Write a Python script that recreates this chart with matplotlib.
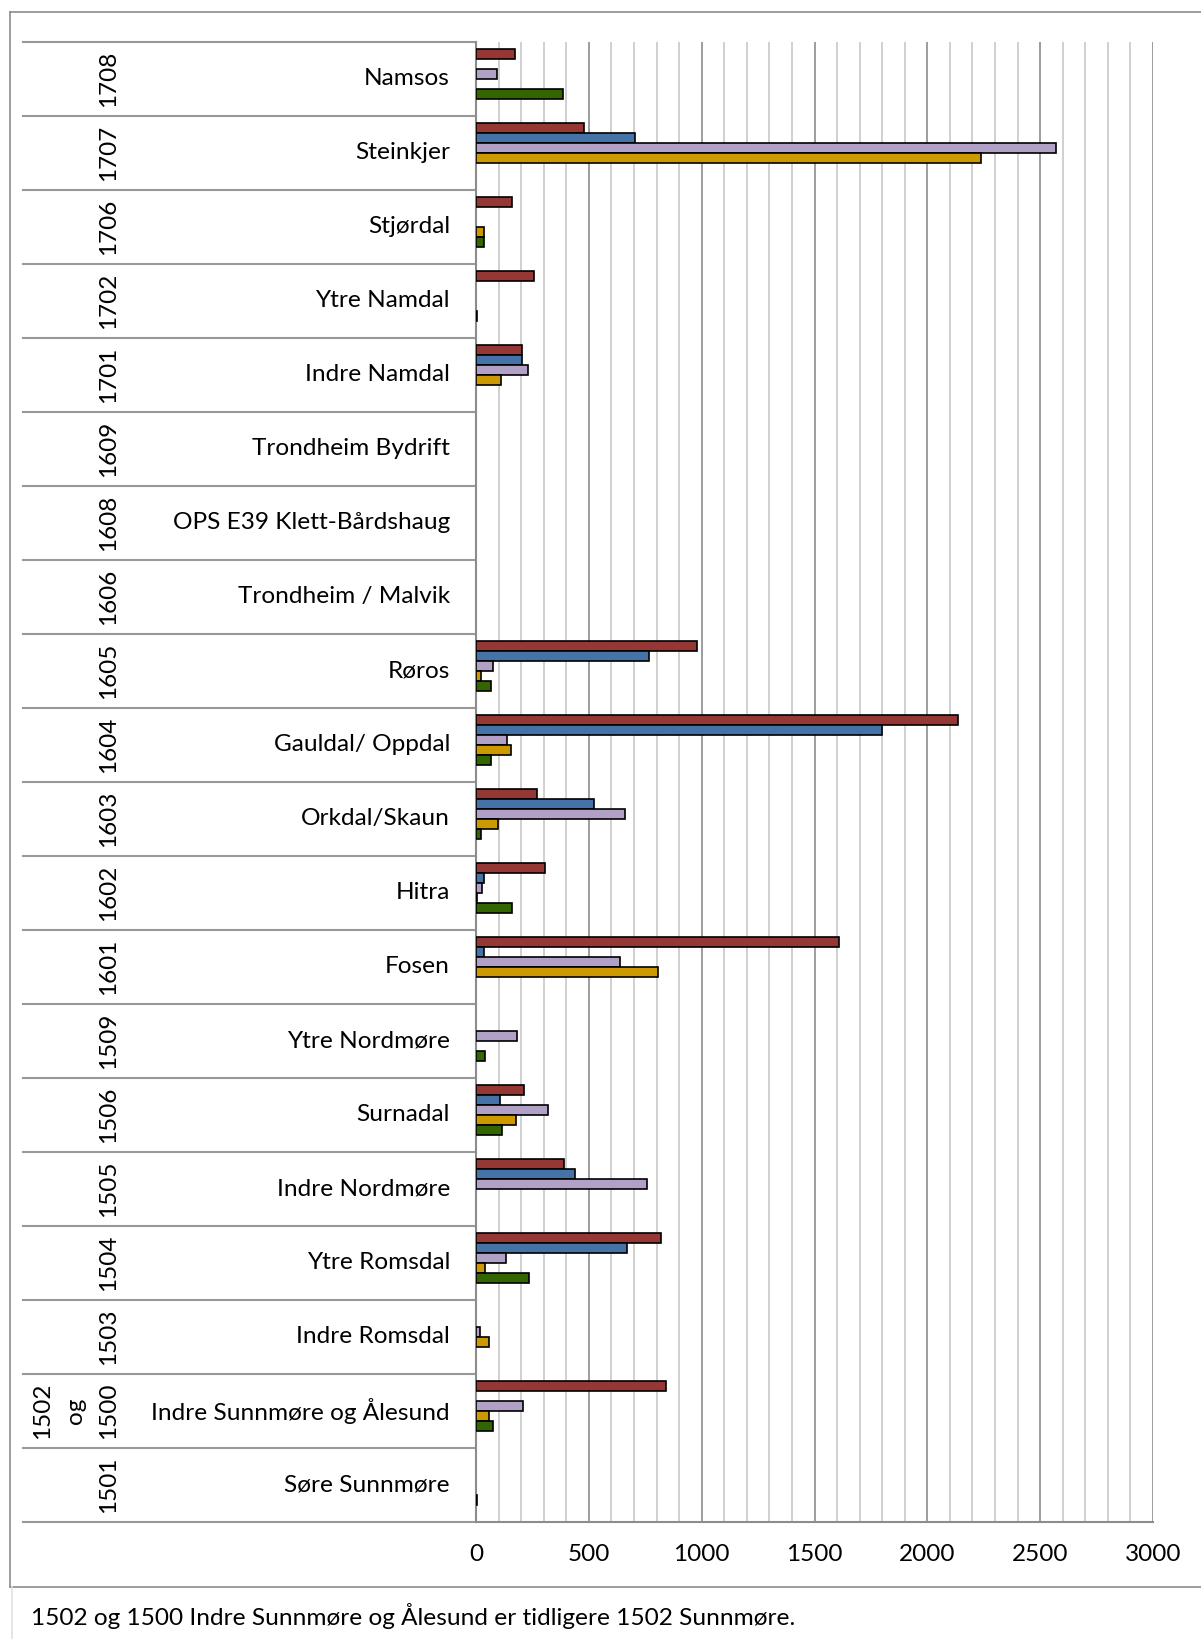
import numpy as np
import matplotlib
matplotlib.use("Agg")
import matplotlib.pyplot as plt
from matplotlib.lines import Line2D
from matplotlib import transforms

# ---------------- data (top to bottom) ----------------
codes = ["1708", "1707", "1706", "1702", "1701", "1609", "1608", "1606", "1605", "1604",
         "1603", "1602", "1601", "1509", "1506", "1505", "1504", "1503", "1502\nog\n1500", "1501"]
names = ["Namsos", "Steinkjer", "Stjørdal", "Ytre Namdal", "Indre Namdal", "Trondheim Bydrift",
         "OPS E39 Klett-Bårdshaug", "Trondheim / Malvik", "Røros", "Gauldal/ Oppdal",
         "Orkdal/Skaun", "Hitra", "Fosen", "Ytre Nordmøre", "Surnadal", "Indre Nordmøre",
         "Ytre Romsdal", "Indre Romsdal", "Indre Sunnmøre og Ålesund", "Søre Sunnmøre"]
nan = np.nan
s_red = [174, 479, 160, 259, 202, nan, nan, nan, 978, 2137, 271, 307, 1608, nan, 212, 390, 820, nan, 842, nan]
s_blue = [nan, 703, nan, nan, 202, nan, nan, nan, 768, 1800, 525, 36, 34, nan, 105, 438, 669, nan, nan, nan]
s_lav = [91, 2572, nan, nan, 230, nan, nan, nan, 77, 137, 661, 28, 640, 182, 319, 756, 133, 18, 208, nan]
s_gold = [nan, 2236, 34, nan, 111, nan, nan, nan, 20, 154, 97, 5, 808, nan, 178, nan, 40, 57, 57, nan]
s_green = [384, nan, 34, 4, nan, nan, nan, nan, 65, 67, 22, 160, nan, 42, 113, nan, 234, nan, 75, 3]
x_ticks = [0, 500, 1000, 1500, 2000, 2500, 3000]
footnote = "1502 og 1500 Indre Sunnmøre og Ålesund er tidligere 1502 Sunnmøre."

series = [s_red, s_blue, s_lav, s_gold, s_green]
colors = ["#953735", "#4572A7", "#B2A1C7", "#CC9900", "#336600"]

# ---------------- figure ----------------
W, H = 1201, 1639
FONT = "Lato"
plt.rcParams["font.family"] = [FONT, "DejaVu Sans"]
fig = plt.figure(figsize=(W / 100, H / 100), dpi=100)
fig.patch.set_facecolor("white")

def fx(px):
    return px / W

def fy(py):
    return 1 - py / H

ax_left, ax_right = 476, 1153
ax_top, ax_bot = 41.7, 1521.7
ax = fig.add_axes([fx(ax_left), fy(ax_bot), (ax_right - ax_left) / W, (ax_bot - ax_top) / H])

n = len(names)
ypos = np.arange(n)
bar_h = 10 / 74.0
for k, (vals, c) in enumerate(zip(series, colors)):
    ax.barh(ypos + (k - 2.5) * bar_h, vals, height=bar_h, color=c,
            edgecolor="black", linewidth=1.2, zorder=3)

ax.set_xlim(0, 3000)
ax.set_ylim(n - 0.5, -0.5)
ax.set_yticks([])
ax.set_xticks(x_ticks)
ax.set_xticklabels([str(t) for t in x_ticks], fontsize=17.5, family=[FONT, "DejaVu Sans"])
ax.tick_params(axis="x", length=0, pad=16, colors="black")
for v in range(100, 3001, 100):
    major = (v % 500 == 0)
    ax.axvline(v, color="#8c8c8c" if major else "#c8c8c8", lw=1.2, zorder=1)
for sp in ["top", "right"]:
    ax.spines[sp].set_visible(False)
ax.spines["left"].set_color("#8c8c8c")
ax.spines["left"].set_linewidth(1.5)
ax.spines["bottom"].set_color("#8c8c8c")
ax.spines["bottom"].set_linewidth(1.5)

# table lines and labels to the left
tr = transforms.blended_transform_factory(fig.transFigure, ax.transData)
for k in range(n + 1):
    yb = k - 0.5
    ax.add_line(Line2D([fx(23), fx(ax_left)], [yb, yb], transform=tr, color="#999999",
                       lw=1.5, clip_on=False))
for i in range(n):
    ax.text(fx(450), i, names[i], transform=tr, ha="right", va="center",
            fontsize=17.6, color="black")
    ax.text(fx(119), i, codes[i], transform=tr, ha="right", va="center", rotation=90,
            fontsize=17.5, color="black", multialignment="center", linespacing=1.7)

# outer frame
frame_c = "#8c8c8c"
fig.add_artist(Line2D([fx(10), 1], [fy(12), fy(12)], color=frame_c, lw=1.2))
fig.add_artist(Line2D([fx(10), fx(10)], [fy(12), fy(1587)], color=frame_c, lw=1.2))
fig.add_artist(Line2D([fx(10), 1], [fy(1587), fy(1587)], color=frame_c, lw=1.2))
fig.add_artist(Line2D([fx(12), fx(12)], [fy(1587), 0], color="#e0e0e0", lw=1.2))

fig.text(fx(31), fy(1616), footnote, ha="left", va="center", fontsize=17.6, color="black")

fig.savefig("out.png", dpi=100)
